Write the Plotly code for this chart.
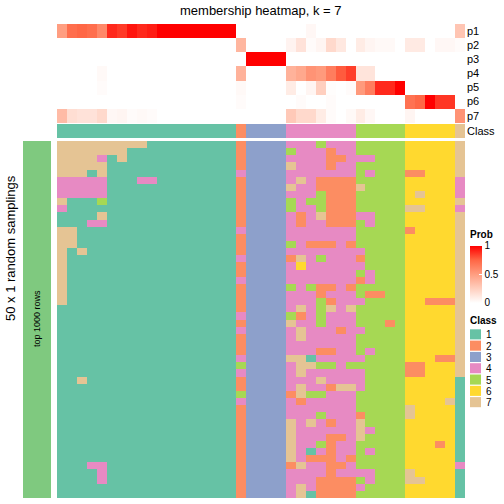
import plotly.graph_objects as go

# ---------------- data ----------------
class_names = ["1", "2", "3", "4", "5", "6", "7"]
class_colors = ["#66C2A5", "#FC8D62", "#8DA0CB", "#E78AC3", "#A6D854", "#FFD92F", "#E5C494"]
prob_labels = ["p1", "p2", "p3", "p4", "p5", "p6", "p7"]

p1 = [0.5, 0.72, 0.75, 0.72, 0.6, 0.9, 0.86, 0.95, 0.9, 0.93, 1, 1, 1, 1, 1, 1, 1, 1,
      0, 0, 0, 0, 0, 0, 0, 0.04, 0, 0, 0, 0, 0, 0, 0, 0, 0, 0, 0, 0, 0, 0, 0.3]
p2 = [0] * 18 + [0.38, 0, 0, 0, 0, 0.06, 0.15, 0.02, 0.05, 0.2, 0.12, 0, 0.1, 0.05, 0.03, 0.03, 0,
                 0.11, 0.11, 0, 0.04, 0.04, 0.02]
p3 = [0] * 19 + [1, 1, 1, 1] + [0] * 18
p4 = [0, 0, 0, 0, 0.03] + [0] * 13 + [0.4, 0, 0, 0, 0, 0.4, 0.45, 0.55, 0.52, 0.65, 0.78, 0.85,
                                       0.14, 0.14, 0, 0, 0, 0, 0, 0, 0, 0, 0]
p5 = [0, 0, 0, 0, 0.02] + [0] * 13 + [0.03, 0, 0, 0, 0, 0.1, 0, 0.05, 0.25, 0.01, 0, 0.02,
                                       0.52, 0.65, 0.9, 0.9, 1, 0, 0, 0, 0, 0, 0]
p6 = [0] * 18 + [0.02, 0, 0, 0, 0, 0, 0.02, 0, 0, 0.02, 0, 0, 0, 0, 0, 0, 0,
                 0.7, 0.75, 1, 0.87, 0.87, 0]
p7 = [0.35, 0.17, 0.15, 0.15, 0.2, 0.04, 0.05, 0.02, 0.03, 0.02] + [0] * 8 + \
     [0, 0, 0, 0, 0, 0.28, 0.2, 0.2, 0.1, 0.02, 0, 0.03, 0.1, 0.04, 0, 0, 0, 0.05, 0, 0, 0, 0, 0.55]

column_class = [1] * 18 + [2] + [3] * 4 + [4] * 7 + [5] * 5 + [6] * 5 + [7]

# 50 sampling rows x 41 columns, class labels
membership_rows = [
    "777777777111111111" + "2" + "3333" + "4445444" + "55555" + "66666" + "7",
    "777777711111111111" + "2" + "3333" + "5444244" + "55555" + "66666" + "7",
    "777741711111111111" + "2" + "3333" + "4444224" + "44555" + "66666" + "7",
    "777771111111111111" + "2" + "3333" + "7444244" + "55555" + "66666" + "7",
    "777171111111111111" + "4" + "3333" + "4444444" + "54555" + "22666" + "7",
    "444441114411111111" + "2" + "3333" + "4742222" + "55555" + "66666" + "4",
    "444441111111111111" + "2" + "3333" + "7442222" + "75555" + "66666" + "4",
    "444441111111111111" + "2" + "3333" + "4445222" + "55555" + "67666" + "4",
    "711151111111111111" + "2" + "3333" + "5455222" + "55555" + "66666" + "7",
    "411111111111111111" + "2" + "3333" + "5445222" + "55555" + "77666" + "4",
    "111171111111111111" + "2" + "3333" + "4247222" + "44555" + "66666" + "7",
    "111441111111111111" + "2" + "3333" + "4244222" + "54555" + "66666" + "7",
    "771111111111111111" + "4" + "3333" + "4444444" + "55555" + "26666" + "7",
    "771111111111111111" + "2" + "3333" + "4444444" + "55555" + "66666" + "7",
    "771111111111111111" + "2" + "3333" + "5422242" + "55555" + "66666" + "7",
    "717111111111111111" + "2" + "3333" + "4444444" + "45555" + "66666" + "7",
    "711111111111111111" + "4" + "3333" + "2745444" + "25555" + "66666" + "7",
    "711111111111111111" + "2" + "3333" + "4644444" + "45555" + "66666" + "7",
    "711111111111111111" + "2" + "3333" + "4444444" + "54555" + "66666" + "7",
    "711111111111111111" + "4" + "3333" + "4444444" + "24555" + "66666" + "7",
    "711111111111111111" + "2" + "3333" + "5452242" + "55555" + "66666" + "7",
    "711111111111111111" + "2" + "3333" + "4442444" + "52255" + "66666" + "7",
    "711111111111111111" + "2" + "3333" + "4445244" + "45555" + "66222" + "7",
    "111111111111111111" + "2" + "3333" + "4745747" + "55555" + "66666" + "7",
    "111111111111111111" + "4" + "3333" + "5245444" + "55555" + "66666" + "7",
    "111111111111111111" + "2" + "3333" + "7445444" + "55525" + "66666" + "7",
    "111111111111111111" + "4" + "3333" + "4744424" + "45555" + "66666" + "7",
    "111111111111111111" + "2" + "3333" + "4744444" + "55555" + "66666" + "7",
    "111111111111111111" + "2" + "3333" + "4444444" + "55555" + "66666" + "7",
    "111111111111111111" + "2" + "3333" + "4442244" + "54555" + "66666" + "7",
    "111111111111111111" + "4" + "3333" + "7714444" + "45555" + "66622" + "7",
    "111111111111111111" + "5" + "3333" + "4775545" + "55555" + "22666" + "7",
    "111111111111111111" + "4" + "3333" + "4744444" + "45555" + "22666" + "7",
    "117111111111111111" + "2" + "3333" + "4447444" + "45555" + "66666" + "1",
    "111111111111111111" + "2" + "3333" + "4744277" + "45555" + "66666" + "1",
    "111111111111111111" + "5" + "3333" + "2755444" + "55555" + "66666" + "1",
    "111111111111111111" + "4" + "3333" + "4244444" + "55555" + "66667" + "1",
    "111111111111111111" + "2" + "3333" + "4444444" + "55555" + "76666" + "1",
    "111111111111111111" + "2" + "3333" + "4445444" + "25555" + "76666" + "1",
    "111111111111111111" + "2" + "3333" + "7474244" + "75555" + "66666" + "1",
    "111111111111111111" + "2" + "3333" + "7444444" + "74555" + "66666" + "1",
    "111111111111111111" + "2" + "3333" + "7444224" + "75555" + "66666" + "1",
    "111111111111111111" + "2" + "3333" + "7445244" + "55555" + "66626" + "1",
    "111111111111111111" + "2" + "3333" + "7414244" + "54555" + "66666" + "1",
    "111111111111111111" + "2" + "3333" + "7422242" + "55555" + "66666" + "1",
    "111441111111111111" + "2" + "3333" + "2744224" + "55555" + "66666" + "4",
    "111141111111111111" + "2" + "3333" + "4444244" + "44555" + "76666" + "1",
    "111141111111111111" + "2" + "3333" + "4442222" + "54555" + "77666" + "1",
    "111111111111111111" + "2" + "3333" + "4742222" + "45555" + "66666" + "1",
    "111111111111111111" + "2" + "3333" + "4712222" + "55555" + "66666" + "1",
]

# ---------------- helpers ----------------
W = H = 504
FONT = "Liberation Sans, Arial, sans-serif"


def px(x):
    return x / W


def py(y):
    return 1 - y / H


n_cols = len(column_class)
membership = [[int(c) for c in r] for r in membership_rows]

class_scale = []
for k, c in enumerate(class_colors):
    class_scale.append([k / 7, c])
    class_scale.append([(k + 1) / 7, c])

prob_scale = [[0, "#FFFFFF"], [0.25, "rgb(255,207,191)"], [0.5, "rgb(255,158,129)"],
              [0.75, "rgb(255,103,70)"], [1, "#FF0000"]]

X0, X1 = 57, 465
fig = go.Figure()

# main membership heatmap
fig.add_trace(go.Heatmap(z=membership, x=list(range(n_cols)), colorscale=class_scale,
                         zmin=0.5, zmax=7.5, showscale=False, hoverinfo="skip",
                         xaxis="x", yaxis="y"))
# probability annotation
fig.add_trace(go.Heatmap(z=[p1, p2, p3, p4, p5, p6, p7], x=list(range(n_cols)), y=prob_labels,
                         colorscale=prob_scale, zmin=0, zmax=1, hoverinfo="skip",
                         xaxis="x2", yaxis="y2",
                         colorbar=dict(x=px(470), xanchor="left", y=py(245.5), yanchor="top",
                                       len=56.5 / H, lenmode="fraction", thickness=12,
                                       outlinewidth=0, xpad=0, ypad=0,
                                       tickvals=[0, 0.5, 1], ticktext=["0", "0.5", "1"],
                                       ticks="inside", ticklen=3, tickcolor="white",
                                       tickfont=dict(size=10, family=FONT, color="black"),
                                       title=dict(text="", font=dict(size=10, family=FONT)))))
# class annotation
fig.add_trace(go.Heatmap(z=[column_class], x=list(range(n_cols)), colorscale=class_scale,
                         zmin=0.5, zmax=7.5, showscale=False, hoverinfo="skip",
                         xaxis="x3", yaxis="y3"))
# left row-slice bar
fig.add_trace(go.Heatmap(z=[[1]], colorscale=[[0, "#7FC97F"], [1, "#7FC97F"]], showscale=False,
                         hoverinfo="skip", xaxis="x4", yaxis="y4"))

hidden = dict(showgrid=False, zeroline=False, showticklabels=False, ticks="", showline=False)
fig.update_layout(
    width=W, height=H, margin=dict(l=0, r=0, t=0, b=0),
    paper_bgcolor="white", plot_bgcolor="white", showlegend=False,
    xaxis=dict(domain=[px(X0), px(X1)], range=[-0.5, n_cols - 0.5], **hidden),
    yaxis=dict(domain=[py(498), py(141)], range=[49.5, -0.5], **hidden),
    xaxis2=dict(domain=[px(X0), px(X1)], range=[-0.5, n_cols - 0.5], anchor="y2", **hidden),
    yaxis2=dict(domain=[py(123), py(24)], autorange="reversed", anchor="x2", **hidden),
    xaxis3=dict(domain=[px(X0), px(X1)], range=[-0.5, n_cols - 0.5], anchor="y3", **hidden),
    yaxis3=dict(domain=[py(138), py(124)], anchor="x3", **hidden),
    xaxis4=dict(domain=[px(23), px(51)], anchor="y4", **hidden),
    yaxis4=dict(domain=[py(498), py(141)], anchor="x4", **hidden),
)


def text(t, x, y, size, xanchor="left", angle=0):
    return dict(text=t, x=px(x), y=py(y), xref="paper", yref="paper", xanchor=xanchor,
                yanchor="middle", textangle=angle, showarrow=False, borderpad=0,
                font=dict(size=size, family=FONT, color="black"))


ann = [text("membership heatmap, k = 7", 261, 10, 13, xanchor="center")]
row_centers = [31, 45, 59, 73, 87, 101, 116]
for lab, yc in zip(prob_labels, row_centers):
    ann.append(text(lab, 466, yc, 11))
ann.append(text("Class", 466, 131, 11))
ann.append(text("50 x 1 random samplings", 10, 248, 13, xanchor="center", angle=-90))
ann.append(text("top 1000 rows", 37, 319, 9, xanchor="center", angle=-90))
ann.append(text("<b>Prob</b>", 469, 234, 10))
ann.append(text("<b>Class</b>", 469, 320, 10))

shapes = []
top = 329.3
step = 11.3
for i, (nm, col) in enumerate(zip(class_names, class_colors)):
    y0 = top + i * step
    shapes.append(dict(type="rect", xref="paper", yref="paper", x0=px(470), x1=px(481),
                       y0=py(y0), y1=py(y0 + step - 1.2), fillcolor=col, line=dict(width=0)))
    ann.append(text(nm, 485, y0 + step / 2, 10))

fig.update_layout(annotations=ann, shapes=shapes)
fig.write_html("out.html", config={"displayModeBar": False},
               post_script="document.body.style.margin='0';")
